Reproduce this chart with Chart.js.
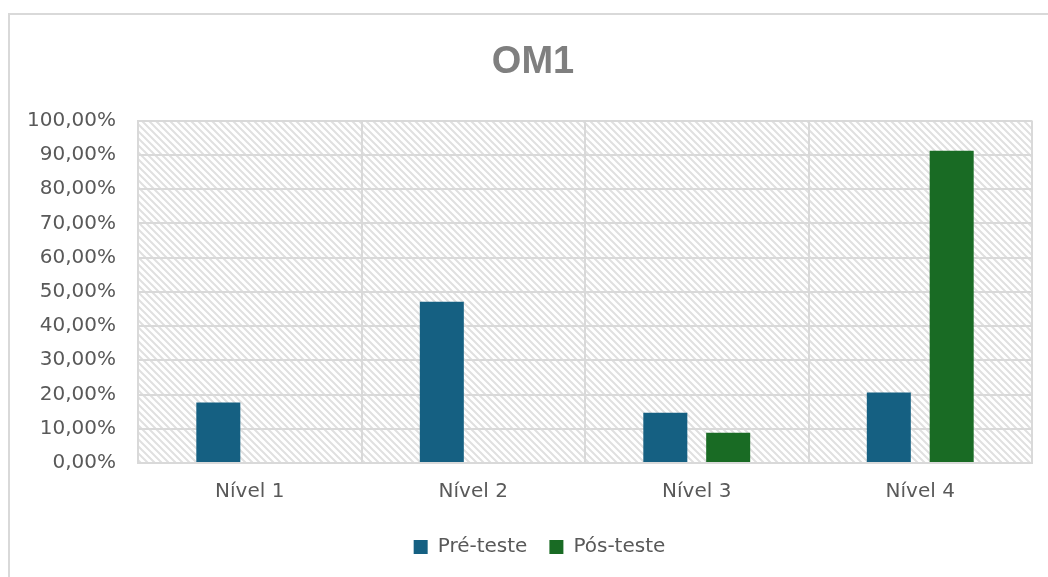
<!DOCTYPE html>
<html>
<head>
<meta charset="utf-8">
<script src="https://cdn.jsdelivr.net/npm/chart.js@4/dist/chart.umd.min.js"></script>
<style>
  html, body { margin: 0; padding: 0; background: #fff; }
  #frame { position: absolute; left: 8px; top: 13px; width: 1100px; height: 620px; border: 2px solid #d9d9d9; box-sizing: border-box; }
  #wrap { position: absolute; left: 0; top: 0; width: 1048px; height: 577px; }
</style>
</head>
<body>
<div id="frame"></div>
<div id="wrap"><canvas id="om1Chart" width="1048" height="577"></canvas></div>
<script>
// OM1 results per level (percent of students)
const levels = ['Nível 1', 'Nível 2', 'Nível 3', 'Nível 4'];
const preTest = [17.65, 47.06, 14.71, 20.59];
const postTest = [0, 0, 8.82, 91.18];

const textGrey = '#595959';
const gridGrey = '#d9d9d9';

// diagonal hatch used behind the bars
function makeHatch() {
    const size = 7;
    const c = document.createElement('canvas');
    c.width = size; c.height = size;
    const g = c.getContext('2d');
    g.fillStyle = '#fff';
    g.fillRect(0, 0, size, size);
    g.strokeStyle = '#e0e0e0';
    g.lineWidth = 2;
    g.beginPath();
    g.moveTo(-size, -size); g.lineTo(size * 2, size * 2);
    g.moveTo(-size, 0); g.lineTo(size, size * 2);
    g.moveTo(0, -size); g.lineTo(size * 2, size);
    g.stroke();
    return g.createPattern(c, 'repeat');
}

const hatchBackground = {
    id: 'hatchBackground',
    beforeDraw(chart) {
        const { ctx, chartArea } = chart;
        ctx.save();
        ctx.fillStyle = makeHatch();
        ctx.fillRect(chartArea.left, chartArea.top, chartArea.right - chartArea.left, chartArea.bottom - chartArea.top);
        ctx.restore();
    }
};

// centre title and legend on the outer frame rather than the canvas
const frameCentre = {
    id: 'frameCentre',
    afterLayout(chart) {
        if (chart.titleBlock) chart.titleBlock.left += 34;
        if (chart.legend) chart.legend.left += 47;
    }
};

const ctx = document.getElementById('om1Chart').getContext('2d');

const om1Chart = new Chart(ctx, {
    type: 'bar',
    data: {
        labels: levels,
        datasets: [{
            label: 'Pré-teste',
            data: preTest,
            backgroundColor: '#156082',
            categoryPercentage: 0.5625,
            barPercentage: 0.7,
        }, {
            label: 'Pós-teste',
            data: postTest,
            backgroundColor: '#196b24',
            categoryPercentage: 0.5625,
            barPercentage: 0.7,
        }],
    },
    options: {
        responsive: false,
        animation: false,
        layout: {
            padding: { top: 40, right: 16, bottom: 10, left: 0 },
        },
        plugins: {
            title: {
                display: true,
                text: 'OM1',
                color: '#7f7f7f',
                font: { family: 'Liberation Sans', size: 38, weight: 'bold' },
                padding: { top: 0, bottom: 35 },
            },
            legend: {
                position: 'bottom',
                labels: {
                    color: textGrey,
                    font: { family: 'DejaVu Sans', size: 20 },
                    boxWidth: 14,
                    boxHeight: 14,
                    padding: 22,
                },
            },
            tooltip: { enabled: false },
        },
        scales: {
            x: {
                grid: { color: gridGrey, lineWidth: 2, drawTicks: false, offset: true },
                border: { color: gridGrey, width: 2 },
                ticks: {
                    color: textGrey,
                    font: { family: 'DejaVu Sans', size: 20 },
                    padding: 17,
                },
                afterFit(axis) { axis.height -= 6; },
            },
            y: {
                min: 0,
                max: 100,
                grid: { color: gridGrey, lineWidth: 2, drawTicks: false },
                border: { color: gridGrey, width: 2 },
                ticks: {
                    stepSize: 10,
                    color: textGrey,
                    font: { family: 'DejaVu Sans', size: 20 },
                    padding: 22,
                    callback: (v) => v.toFixed(2).replace('.', ',') + '%',
                },
                afterFit(axis) { axis.width = 138; },
            },
        },
    },
    plugins: [hatchBackground, frameCentre],
});
</script>
</body>
</html>
